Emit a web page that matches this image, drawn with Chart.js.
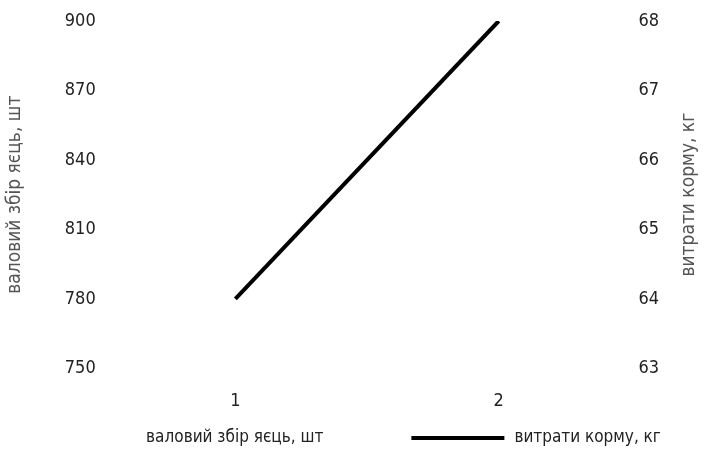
<!DOCTYPE html>
<html>
<head>
<meta charset="utf-8">
<script src="https://cdn.jsdelivr.net/npm/chart.js@4.4.0/dist/chart.umd.min.js"></script>
<style>
  html, body { margin: 0; padding: 0; background: #fff; }
  #wrap { width: 704px; height: 453px; }
</style>
</head>
<body>
<div id="wrap"><canvas id="chart" width="704" height="453"></canvas></div>
<script>
// Дані графіка
const categories = ['1', '2'];
const eggsLabel = 'валовий збір яєць, шт';
const feedLabel = 'витрати корму, кг';
const eggsValues = [830, 880]; // стовпчики на рисунку не видно (білі)
const feedValues = [64, 68];
const leftTicks = { min: 750, max: 900, step: 30 };
const rightTicks = { min: 63, max: 68, step: 1 };

const FONT = "'Liberation Sans Narrow', 'DejaVu Sans Condensed', sans-serif";
const TEXT = '#222';
const TITLE = '#555';

Chart.defaults.font.family = FONT;
Chart.defaults.color = TEXT;

// Підпис правої осі (повернутий так само, як лівий) і легенда внизу
const extrasPlugin = {
  id: 'extras',
  afterDraw(chart) {
    const { ctx, chartArea } = chart;
    ctx.save();

    // заголовок правої осі
    ctx.font = `19px ${FONT}`;
    ctx.fillStyle = TITLE;
    ctx.textAlign = 'center';
    ctx.textBaseline = 'middle';
    ctx.translate(chart.width - 15, (chartArea.top + chartArea.bottom) / 2);
    ctx.rotate(-Math.PI / 2);
    ctx.fillText(feedLabel, 0, 0);
    ctx.restore();

    // легенда
    ctx.save();
    ctx.font = `17px ${FONT}`;
    ctx.fillStyle = TEXT;
    ctx.textBaseline = 'middle';
    const items = [
      { text: eggsLabel, color: null },
      { text: feedLabel, color: '#000' },
    ];
    const boxW = 93, gap = 10, itemGap = 88;
    const widths = items.map((it) => boxW + gap + ctx.measureText(it.text).width);
    const total = widths.reduce((a, b) => a + b, 0) + itemGap;
    let x = chart.width / 2 - total / 2;
    const y = chart.height - 15;
    items.forEach((it, i) => {
      if (it.color) {
        ctx.fillStyle = it.color;
        ctx.fillRect(x, y - 2, boxW, 4);
      }
      ctx.fillStyle = TEXT;
      ctx.fillText(it.text, x + boxW + gap, y);
      x += widths[i] + itemGap;
    });
    ctx.restore();
  },
};

const ctx = document.getElementById('chart').getContext('2d');

new Chart(ctx, {
  data: {
    labels: categories,
    datasets: [
      {
        type: 'bar',
        label: eggsLabel,
        data: eggsValues,
        backgroundColor: 'rgba(255,255,255,0)',
        borderWidth: 0,
        yAxisID: 'y',
        order: 2,
      },
      {
        type: 'line',
        label: feedLabel,
        data: feedValues,
        borderColor: '#000',
        backgroundColor: '#000',
        borderWidth: 4,
        pointRadius: 0,
        tension: 0,
        yAxisID: 'y1',
        order: 1,
      },
    ],
  },
  options: {
    responsive: false,
    animation: false,
    layout: { padding: { left: 0, right: 45, top: 21, bottom: 27 } },
    plugins: {
      tooltip: { enabled: false },
      legend: { display: false },
    },
    scales: {
      x: {
        grid: { display: false },
        border: { display: false },
        ticks: { font: { size: 18 }, color: TEXT, padding: 14 },
      },
      y: {
        position: 'left',
        min: leftTicks.min,
        max: leftTicks.max,
        grid: { display: false },
        border: { display: false },
        ticks: { stepSize: leftTicks.step, font: { size: 18 }, color: TEXT, padding: 0 },
        title: { display: true, text: eggsLabel, font: { size: 19 }, color: TITLE, padding: { top: 4, bottom: 38 } },
      },
      y1: {
        position: 'right',
        min: rightTicks.min,
        max: rightTicks.max,
        grid: { display: false },
        border: { display: false },
        ticks: { stepSize: rightTicks.step, font: { size: 18 }, color: TEXT, padding: 0 },
      },
    },
  },
  plugins: [extrasPlugin],
});
</script>
</body>
</html>
